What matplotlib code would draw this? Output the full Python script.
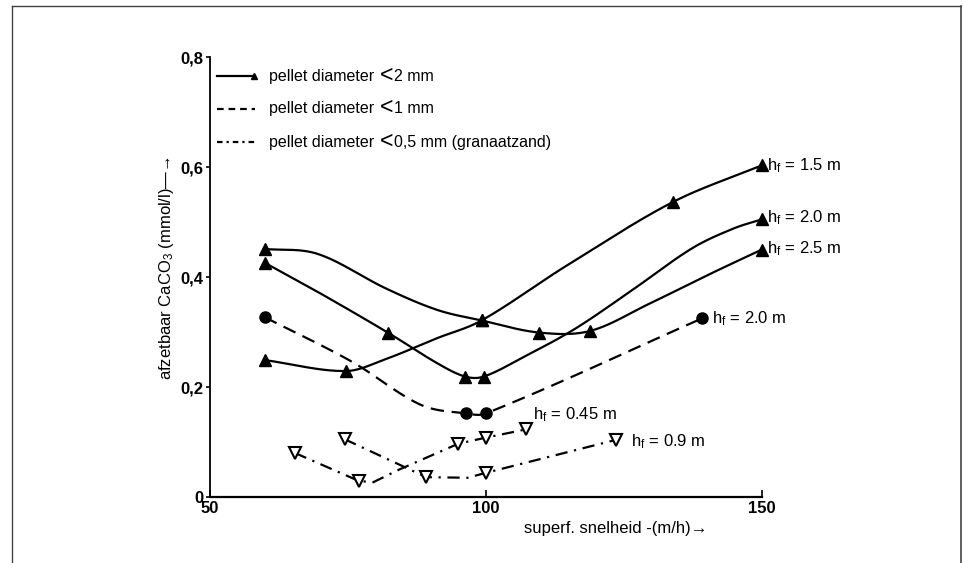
import numpy as np
import matplotlib
matplotlib.use('Agg')
import matplotlib.pyplot as plt
from matplotlib.lines import Line2D

plt.rcParams['font.family'] = ['Liberation Sans', 'DejaVu Sans']
plt.rcParams['mathtext.fontset'] = 'custom'
plt.rcParams['mathtext.rm'] = 'Liberation Sans'
plt.rcParams['mathtext.it'] = 'Liberation Sans'

# ---------------- data ----------------
x_ticks = [50, 100, 150]
x_ticklabels = ['50', '100', '150']
y_ticks = [0, 0.2, 0.4, 0.6, 0.8]
y_ticklabels = ['0', '0,2', '0,4', '0,6', '0,8']

# pellet diameter < 2 mm, hf = 1.5 m
a_mx = [59.9, 74.6, 99.2, 133.8, 150.0]
a_my = [0.249, 0.229, 0.321, 0.536, 0.603]
a_tx = [59.9, 74.6, 81.9, 91.2, 99.2, 114.5, 133.8, 150.0]
a_ty = [0.249, 0.229, 0.251, 0.289, 0.321, 0.420, 0.536, 0.603]

# pellet diameter < 2 mm, hf = 2.0 m
b_mx = [59.9, 82.2, 96.2, 99.6, 150.0]
b_my = [0.426, 0.299, 0.219, 0.219, 0.505]
b_tx = [59.9, 69.5, 82.2, 91.2, 96.2, 99.6, 106.9, 116.0, 125.9, 137.3, 144.8, 150.0]
b_ty = [0.426, 0.373, 0.299, 0.243, 0.219, 0.219, 0.255, 0.305, 0.372, 0.452, 0.488, 0.505]

# pellet diameter < 2 mm, hf = 2.5 m
c_mx = [59.9, 99.2, 109.6, 118.9, 150.0]
c_my = [0.451, 0.321, 0.299, 0.302, 0.450]
c_tx = [59.9, 69.5, 81.9, 91.2, 99.2, 109.6, 118.9, 129.7, 141.1, 150.0]
c_ty = [0.451, 0.442, 0.379, 0.340, 0.321, 0.299, 0.302, 0.352, 0.408, 0.450]

# pellet diameter < 1 mm, hf = 2.0 m
d_mx = [59.9, 96.3, 100.0, 139.2]
d_my = [0.327, 0.152, 0.152, 0.325]
d_tx = [59.9, 75.7, 88.1, 96.3, 100.0, 139.2]
d_ty = [0.327, 0.246, 0.168, 0.152, 0.152, 0.325]

# pellet diameter < 0.5 mm, hf = 0.45 m
e_mx = [65.4, 77.0, 95.0, 100.0, 107.3]
e_my = [0.080, 0.029, 0.097, 0.108, 0.123]
e_tx = [65.4, 77.0, 79.6, 84.3, 95.0, 100.0, 107.3]
e_ty = [0.080, 0.029, 0.027, 0.050, 0.097, 0.108, 0.123]

# pellet diameter < 0.5 mm, hf = 0.9 m
f_mx = [74.4, 89.2, 100.0, 123.6]
f_my = [0.105, 0.036, 0.044, 0.104]
f_tx = [74.4, 89.2, 96.7, 100.0, 123.6]
f_ty = [0.105, 0.036, 0.035, 0.044, 0.104]

legend_labels = [('pellet diameter', '2 mm'),
                 ('pellet diameter', '1 mm'),
                 ('pellet diameter', '0,5 mm (granaatzand)')]
curve_labels = [r'h$_{\mathregular{f}}$ = 1.5 m', r'h$_{\mathregular{f}}$ = 2.0 m',
                r'h$_{\mathregular{f}}$ = 2.5 m', r'h$_{\mathregular{f}}$ = 2.0 m',
                r'h$_{\mathregular{f}}$ = 0.45 m', r'h$_{\mathregular{f}}$ = 0.9 m']


def smooth(xs, ys, n=25):
    """Cubic Hermite (Catmull-Rom style) path through the given points, for drawing."""
    xs = np.asarray(xs, float)
    ys = np.asarray(ys, float)
    m = np.zeros_like(ys)
    m[0] = (ys[1] - ys[0]) / (xs[1] - xs[0])
    m[-1] = (ys[-1] - ys[-2]) / (xs[-1] - xs[-2])
    for i in range(1, len(xs) - 1):
        m[i] = (ys[i + 1] - ys[i - 1]) / (xs[i + 1] - xs[i - 1])
    px, py = [], []
    for i in range(len(xs) - 1):
        h = xs[i + 1] - xs[i]
        t = np.linspace(0, 1, n, endpoint=(i == len(xs) - 2))
        h00 = 2 * t**3 - 3 * t**2 + 1
        h10 = t**3 - 2 * t**2 + t
        h01 = -2 * t**3 + 3 * t**2
        h11 = t**3 - t**2
        px.append(xs[i] + t * h)
        py.append(h00 * ys[i] + h10 * h * m[i] + h01 * ys[i + 1] + h11 * h * m[i + 1])
    return np.concatenate(px), np.concatenate(py)


fig = plt.figure(figsize=(9.64, 5.63), dpi=100)
ax = fig.add_axes([210 / 964, 1 - 497 / 563, 552 / 964, 440 / 563])

LW = 1.6
K = 'black'
dash = (0, (6, 3.5))
dashdot = (0, (5.5, 3, 1, 3))

for tx, ty, mx, my in [(a_tx, a_ty, a_mx, a_my), (b_tx, b_ty, b_mx, b_my), (c_tx, c_ty, c_mx, c_my)]:
    sx, sy = smooth(tx, ty)
    ax.plot(sx, sy, color=K, lw=LW, clip_on=False)
    ax.plot(mx, my, ls='none', marker='^', ms=8, color=K, clip_on=False)

sx, sy = smooth(d_tx, d_ty)
ax.plot(sx, sy, color=K, lw=LW, ls=dash, clip_on=False)
ax.plot(d_mx, d_my, ls='none', marker='o', ms=8, color=K, clip_on=False)

ax.plot(e_tx, e_ty, color=K, lw=LW, ls=dashdot, clip_on=False)
ax.plot(e_mx, e_my, ls='none', marker='v', ms=8, mfc='white', mec=K, mew=1.5, clip_on=False)
ax.plot(f_tx, f_ty, color=K, lw=LW, ls=dashdot, clip_on=False)
ax.plot(f_mx, f_my, ls='none', marker='v', ms=8, mfc='white', mec=K, mew=1.5, clip_on=False)

# curve labels
lab_fs = 12
ax.text(150.9, 0.603, curve_labels[0], fontsize=lab_fs, va='center', ha='left')
ax.text(150.9, 0.508, curve_labels[1], fontsize=lab_fs, va='center', ha='left')
ax.text(150.9, 0.452, curve_labels[2], fontsize=lab_fs, va='center', ha='left')
ax.text(140.9, 0.325, curve_labels[3], fontsize=lab_fs, va='center', ha='left')
ax.text(108.5, 0.149, curve_labels[4], fontsize=lab_fs, va='center', ha='left')
ax.text(126.3, 0.101, curve_labels[5], fontsize=lab_fs, va='center', ha='left')

# legend (drawn inside the axes)
leg_y = [0.765, 0.706, 0.645]
ax.plot([51.2, 58.2], [leg_y[0]] * 2, color=K, lw=LW, clip_on=False)
ax.plot([57.9], [leg_y[0]], marker='^', ms=4, color=K, clip_on=False)
ax.plot([51.2, 58.2], [leg_y[1]] * 2, color=K, lw=LW, ls=(0, (3, 2.2)), clip_on=False)
ax.plot([51.2, 58.2], [leg_y[2]] * 2, color=K, lw=LW, ls=(0, (2.5, 1.8, 1, 1.8)), clip_on=False)
leg_fs = 11.5
for yy, (lab1, lab2) in zip(leg_y, legend_labels):
    t1 = ax.text(60.7, yy, lab1, fontsize=leg_fs, va='center', ha='left')
    t2 = ax.annotate('<', xy=(1, 0.5), xycoords=t1, xytext=(4, 1), textcoords='offset points',
                     fontsize=leg_fs * 1.45, va='center', ha='left')
    ax.annotate(lab2, xy=(1, 0.5), xycoords=t2, xytext=(0.5, -1), textcoords='offset points',
                fontsize=leg_fs, va='center', ha='left')

# axes styling
ax.set_xlim(50, 150)
ax.set_ylim(0, 0.8)
for s in ['top', 'right']:
    ax.spines[s].set_visible(False)
ax.spines['left'].set_linewidth(1.3)
ax.spines['bottom'].set_linewidth(1.6)
ax.set_xticks(x_ticks)
ax.set_xticklabels(x_ticklabels, fontsize=12, fontweight='bold')
ax.set_yticks(y_ticks)
ax.set_yticklabels(y_ticklabels, fontsize=12, fontweight='bold')
ax.tick_params(axis='x', direction='in', length=5, width=1.2, pad=3)
ax.tick_params(axis='y', direction='out', length=3, width=1.2, pad=2)

ax.text(-0.078, 0.52, 'afzetbaar CaCO$_{\\mathregular{3}}$ (mmol/l)\u2014\u2192', rotation=90,
        fontsize=12, ha='center', va='center', transform=ax.transAxes)
ax.text(0.7355, -0.0705, 'superf. snelheid -(m/h)\u2192', fontsize=12,
        ha='center', va='center', transform=ax.transAxes)

# page frame lines
fc = '#444444'
fig.add_artist(Line2D([12 / 964, 961 / 964], [1 - 6 / 563] * 2, color=fc, lw=1.0, transform=fig.transFigure))
fig.add_artist(Line2D([12 / 964] * 2, [0, 1 - 6 / 563], color=fc, lw=1.0, transform=fig.transFigure))
fig.add_artist(Line2D([961 / 964] * 2, [0, 1 - 6 / 563], color=fc, lw=1.2, transform=fig.transFigure))

fig.savefig('out.png', dpi=100)
